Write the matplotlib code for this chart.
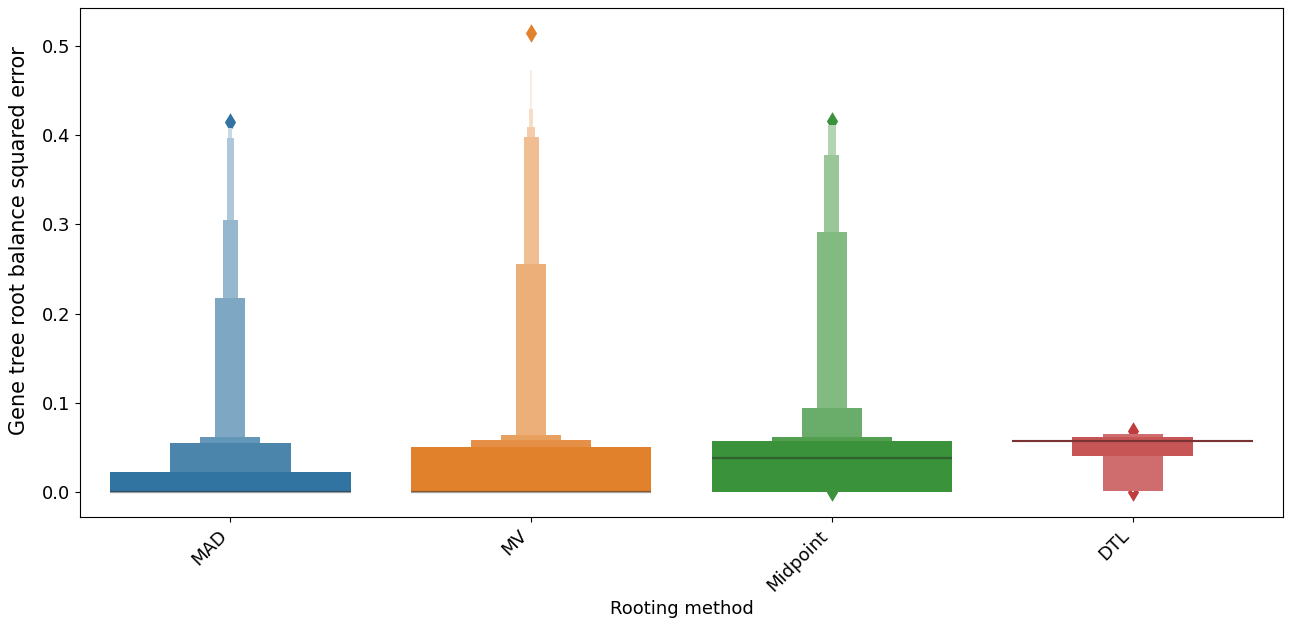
import numpy as np
import matplotlib
matplotlib.use('Agg')
import matplotlib.pyplot as plt
from matplotlib.patches import Rectangle
from matplotlib.colors import to_rgb

METHODS = ['MAD', 'MV', 'Midpoint', 'DTL']
COLORS = ['#3274a1', '#e1812c', '#3a923a', '#c03d3e']

# letter values, innermost box (IQR) first
MAD_LOW = [0.0, 0.0, 0.0, 0.0, 0.0, 0.0, 0.0]
MAD_HIGH = [0.0224, 0.055, 0.0617, 0.2175, 0.305, 0.397, 0.408]
MV_LOW = [0.0, 0.0, 0.0, 0.0, 0.0, 0.0, 0.0, 0.0]
MV_HIGH = [0.0508, 0.0586, 0.0639, 0.2556, 0.398, 0.4096, 0.430, 0.473]
MID_LOW = [0.0004, 0.0002, 0.0001, 0.0001, 0.0001, 0.0001]
MID_HIGH = [0.0575, 0.0613, 0.0938, 0.292, 0.378, 0.4114]
DTL_LOW = [0.0565, 0.0404, 0.0015, 0.0013, 0.0011, 0.0009, 0.0007, 0.0005]
DTL_HIGH = [0.0580, 0.0620, 0.0647, 0.0655, 0.0645, 0.0640, 0.0635, 0.0630]

MEDIANS = [0.0, 0.0, 0.0378, 0.0572]
OUTLIERS = [[0.415], [0.5146], [0.4165, 0.0], [0.0687, 0.0]]

LOWS = [MAD_LOW, MV_LOW, MID_LOW, DTL_LOW]
HIGHS = [MAD_HIGH, MV_HIGH, MID_HIGH, DTL_HIGH]

fig, ax = plt.subplots(figsize=(12.9, 6.24), dpi=100)
fig.subplots_adjust(left=0.062, right=0.9946, top=0.987, bottom=0.1715)

width = 0.8
n_shades = 8
for x, (lo, hi, col, med, out) in enumerate(zip(LOWS, HIGHS, COLORS, MEDIANS, OUTLIERS)):
    base = np.array(to_rgb(col))
    light = base + 0.85 * (1 - base)
    k = len(lo)
    # outliers sit under the boxes
    ax.scatter(np.repeat(x, len(out)), out, marker='d', s=90, color=col,
               linewidths=0, zorder=1)
    # narrow outer boxes first, wide inner box on top
    for i in range(k - 1, -1, -1):
        w = width * 0.5 ** i
        shade = min(i / (n_shades - 1), 1.0)
        fc = base + shade * (light - base)
        ax.add_patch(Rectangle((x - w / 2, lo[i]), w, hi[i] - lo[i],
                               facecolor=fc, edgecolor='none', zorder=2))
    ax.plot([x - width / 2, x + width / 2], [med, med], color='.15', alpha=.45,
            lw=1.6, zorder=3, solid_capstyle='butt')

ax.set_xlim(-0.5, 3.5)
ax.set_ylim(-0.028, 0.5426)
ax.set_xticks(range(len(METHODS)))
ax.set_xticklabels(METHODS, rotation=45, ha='right', fontsize=13)
ax.set_yticks([0.0, 0.1, 0.2, 0.3, 0.4, 0.5])
ax.tick_params(axis='y', labelsize=13)
ax.set_xlabel('Rooting method', fontsize=13)
ax.set_ylabel('Gene tree root balance squared error', fontsize=15)
ax.yaxis.set_label_coords(-0.042, 0.544)

plt.savefig('out.png', dpi=100)
